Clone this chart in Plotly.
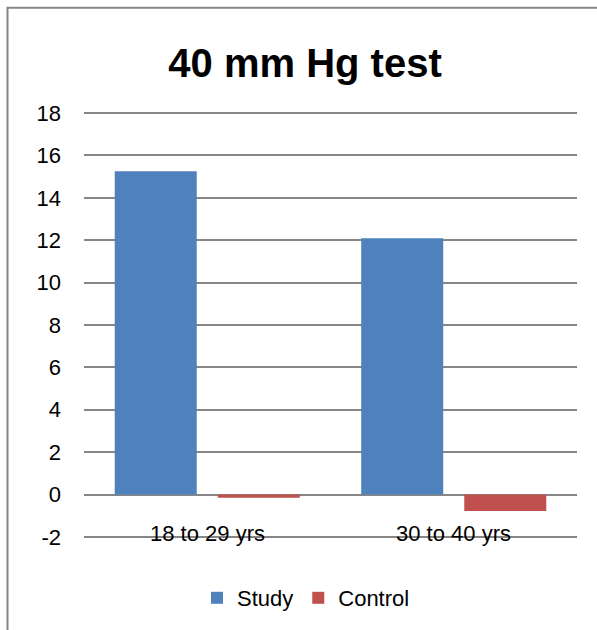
import plotly.graph_objects as go

categories = ["18 to 29 yrs", "30 to 40 yrs"]
study = [15.26, 12.09]
control = [-0.15, -0.78]
y_ticks = [-2, 0, 2, 4, 6, 8, 10, 12, 14, 16, 18]
y_tick_text = ["-2", "0", "2", "4", "6", "8", "10", "12", "14", "16", "18"]

W, H = 597, 630
L, R, T, B = 84, 20, 112, 91
pw, ph = W - L - R, H - T - B

def px_x(x):
    return (x - L) / pw

def px_y(y):
    return (H - B - y) / ph

FONT = "Liberation Sans, Arial, sans-serif"

fig = go.Figure()
fig.add_trace(go.Bar(name="Study", x=categories, y=study, marker_color="#4F81BD",
                     marker_line_width=0))
fig.add_trace(go.Bar(name="Control", x=categories, y=control, marker_color="#C0504D",
                     marker_line_width=0))

for c in categories:
    fig.add_annotation(x=c, y=-2, xref="x", yref="y", text=c, showarrow=False,
                       yanchor="middle", yshift=3, font=dict(size=22, color="#000000", family=FONT))

fig.add_shape(type="rect", xref="paper", yref="paper",
              x0=px_x(7.5), x1=px_x(605), y0=px_y(7.5), y1=px_y(640),
              line=dict(color="#868686", width=2), fillcolor="rgba(0,0,0,0)", layer="below")

fig.update_layout(
    width=W, height=H,
    margin=dict(l=L, r=R, t=T, b=B),
    paper_bgcolor="white", plot_bgcolor="white",
    barmode="group", bargap=0.164, bargroupgap=0.204,
    title=dict(text="<b>40 mm Hg test</b>", x=305 / W, xanchor="center",
               y=1 - 63 / H, yanchor="middle", yref="container",
               font=dict(size=40, color="#000000", family=FONT)),
    font=dict(family=FONT, color="#000000", size=22),
    showlegend=True,
    legend=dict(orientation="h", x=px_x(306), xanchor="center", y=px_y(598), yanchor="middle",
                font=dict(size=22, family=FONT, color="#000000"), bgcolor="rgba(0,0,0,0)",
                traceorder="normal"),
    xaxis=dict(showticklabels=False, showgrid=False, zeroline=False, showline=False, ticks=""),
    yaxis=dict(range=[-2.05, 18.05], tickvals=y_ticks, ticktext=y_tick_text,
               showgrid=True, gridcolor="#868686", gridwidth=1.5,
               zeroline=True, zerolinecolor="#868686", zerolinewidth=2, showline=False,
               ticks="", ticklabelstandoff=22, tickfont=dict(size=22, family=FONT, color="#000000")),
)

fig.write_html("out.html")
